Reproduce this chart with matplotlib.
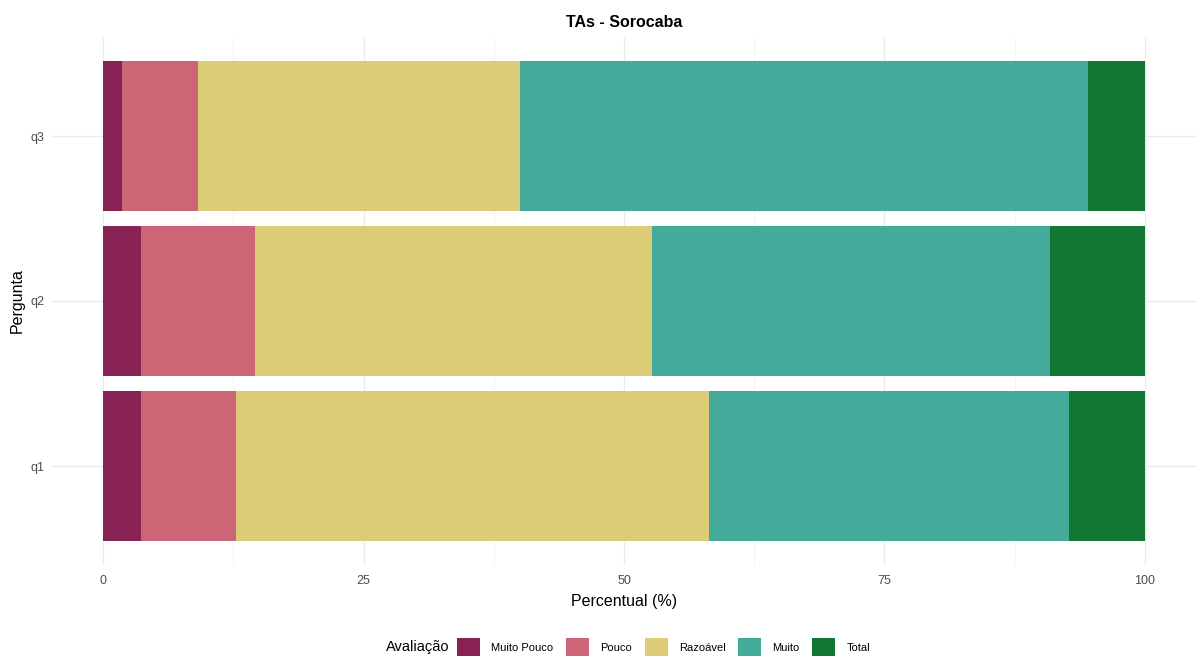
import matplotlib.pyplot as plt
from matplotlib.patches import Patch
import numpy as np

plt.rcParams["font.family"] = ["Liberation Sans", "DejaVu Sans"]

perguntas = ["q1", "q2", "q3"]
categorias = ["Muito Pouco", "Pouco", "Razoável", "Muito", "Total"]
cores = ["#882255", "#CC6677", "#DDCC77", "#44AA99", "#117733"]

# percentual por categoria, na ordem de perguntas (q1, q2, q3)
muito_pouco = [3.6, 3.6, 1.8]
pouco = [9.2, 11.0, 7.3]
razoavel = [45.4, 38.1, 30.9]
muito = [34.5, 38.2, 54.5]
total = [7.3, 9.1, 5.5]

valores = [muito_pouco, pouco, razoavel, muito, total]

fig = plt.figure(figsize=(11.98, 6.58), dpi=100)
ax = fig.add_axes([51 / 1198, 1 - 565 / 658, 1146 / 1198, 528 / 658])

y = np.arange(1, len(perguntas) + 1)
left = np.zeros(len(perguntas))
for cat, vals, cor in zip(categorias, valores, cores):
    ax.barh(y, vals, left=left, height=0.91, color=cor, label=cat, zorder=2)
    left += np.array(vals)

ax.set_xlim(-5, 105)
ax.set_ylim(0.4, 3.6)
ax.set_xticks([0, 25, 50, 75, 100])
ax.set_xticks([12.5, 37.5, 62.5, 87.5], minor=True)
ax.set_yticks(y)
ax.set_yticklabels(perguntas)
ax.grid(True, which="major", color="#ebebeb", linewidth=1.0, zorder=0)
ax.grid(True, which="minor", axis="x", color="#f3f3f3", linewidth=0.6, zorder=0)
for s in ax.spines.values():
    s.set_visible(False)
ax.tick_params(which="both", length=0, labelsize=9, labelcolor="#4d4d4d")
ax.tick_params(axis="x", pad=7)
ax.tick_params(axis="y", pad=5)

ax.set_xlabel("Percentual (%)", fontsize=11.5, labelpad=5)
ax.set_ylabel("Pergunta", fontsize=11.5, labelpad=4)
ax.set_title("TAs - Sorocaba", fontsize=11.5, fontweight="bold", pad=7)

handles = [Patch(facecolor=c, edgecolor="none") for c in cores]
fig.text(386 / 1198, 1 - 647 / 658, "Avaliação", fontsize=10.5, va="center", ha="left")
fig.legend(handles, categorias, loc="center left", bbox_to_anchor=(457 / 1198, 1 - 647 / 658),
           ncol=5, frameon=False, fontsize=8, handlelength=2.07, handleheight=2.07,
           columnspacing=1.15, handletextpad=1.0, borderaxespad=0, borderpad=0)

fig.savefig("out.png", dpi=100)
